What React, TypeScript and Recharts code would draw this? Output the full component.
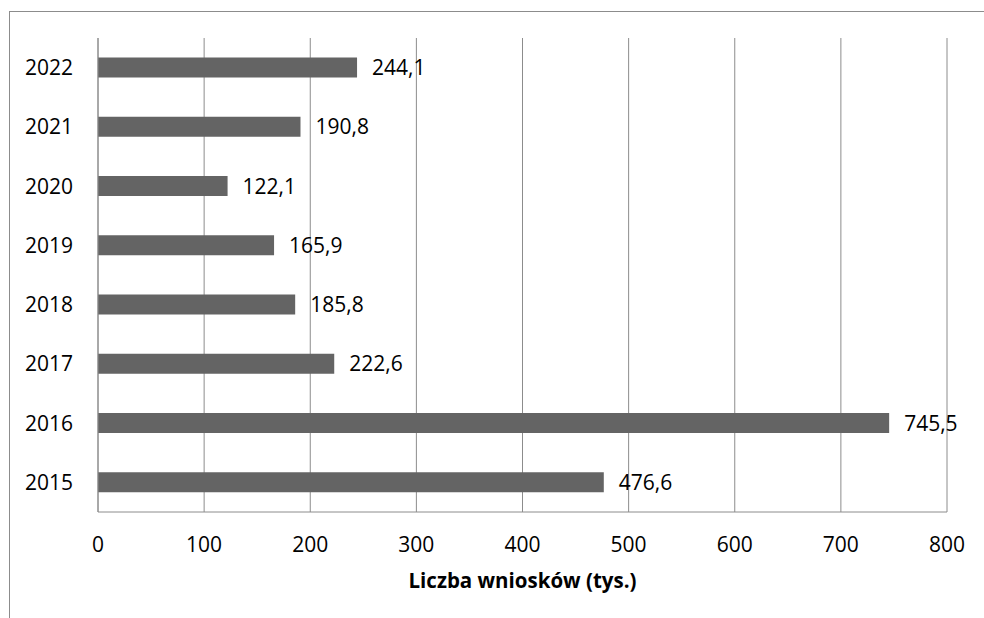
import React from 'react';
import { BarChart, Bar, XAxis, YAxis, CartesianGrid, LabelList } from 'recharts';

const years = ['2015', '2016', '2017', '2018', '2019', '2020', '2021', '2022'];
const applications = [476.6, 745.5, 222.6, 185.8, 165.9, 122.1, 190.8, 244.1];
const xTicks = [0, 100, 200, 300, 400, 500, 600, 700, 800];

const data = years.map((year, i) => ({ year, value: applications[i] }));

const fmt = (v: any) => Number(v).toFixed(1).replace('.', ',');

export default function App() {
  return (
    <div
      style={{
        position: 'fixed',
        left: 0,
        top: 0,
        width: 984,
        height: 618,
        overflow: 'hidden',
        background: '#fff',
        fontFamily: '"Open Sans", sans-serif',
      }}
    >
      <div
        style={{
          position: 'absolute',
          left: 9,
          top: 11,
          width: 1000,
          height: 700,
          borderLeft: '1px solid #8c8c8c',
          borderTop: '1px solid #8c8c8c',
        }}
      />
      <BarChart
        width={984}
        height={618}
        data={data}
        layout="vertical"
        margin={{ top: 38, right: 37, bottom: 0, left: 8 }}
        barCategoryGap="33%"
        style={{ position: 'absolute', left: 0, top: 0 }}
      >
        <CartesianGrid horizontal={false} stroke="#8c8c8c" />
        <XAxis
          type="number"
          domain={[0, 800]}
          ticks={xTicks}
          height={106}
          tickLine={false}
          tickSize={0}
          tickMargin={25}
          axisLine={{ stroke: '#8c8c8c' }}
          tick={{ fill: '#000', fontSize: 21 }}
          interval={0}
          label={{
            value: 'Liczba wniosków (tys.)',
            position: 'insideTop',
            offset: 61,
            fill: '#000',
            fontSize: 20.5,
            fontWeight: 'bold',
          }}
        />
        <YAxis
          type="category"
          dataKey="year"
          reversed
          width={90}
          tickLine={false}
          tickSize={0}
          tickMargin={25}
          axisLine={{ stroke: '#8c8c8c' }}
          tick={{ fill: '#000', fontSize: 21 }}
        />
        <Bar dataKey="value" fill="#646464" isAnimationActive={false}>
          <LabelList
            dataKey="value"
            position="right"
            offset={15}
            formatter={fmt}
            fill="#000"
            fontSize={21}
          />
        </Bar>
      </BarChart>
    </div>
  );
}
